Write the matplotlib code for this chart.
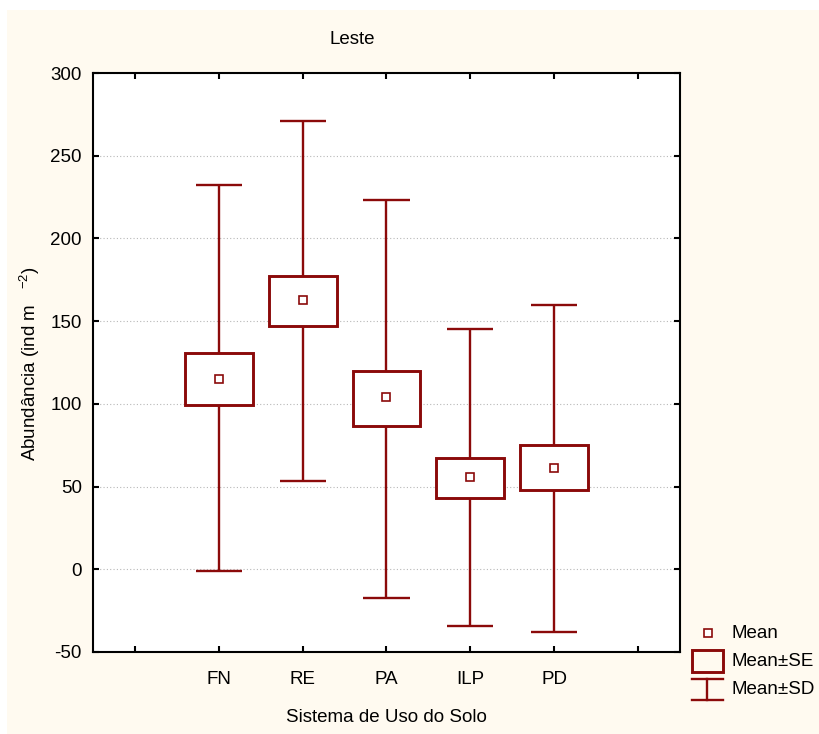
import matplotlib
matplotlib.use("Agg")
import matplotlib.pyplot as plt
from matplotlib.patches import Rectangle
from matplotlib.lines import Line2D
from matplotlib import font_manager

categories = ["FN", "RE", "PA", "ILP", "PD"]
means = [115, 163, 104, 55.6, 61.4]
se_hi = [131, 177, 119.6, 67.2, 74.9]
se_lo = [99.5, 147.3, 86.4, 43.1, 47.7]
sd_hi = [232, 271, 223, 145, 160]
sd_lo = [-1.2, 53.5, -17.5, -34.2, -37.9]
yticks = [-50, 0, 50, 100, 150, 200, 250, 300]

names = {f.name for f in font_manager.fontManager.ttflist}
fam = "Liberation Sans Narrow" if "Liberation Sans Narrow" in names else "Liberation Sans"
plt.rcParams["font.family"] = [fam, "DejaVu Sans"]
plt.rcParams["font.size"] = 13
plt.rcParams["axes.unicode_minus"] = False
plt.rcParams["mathtext.fontset"] = "custom"
plt.rcParams["mathtext.rm"] = fam
plt.rcParams["mathtext.it"] = fam

red = "#8b0a0a"
cream = "#fffaf0"
W, H = 820, 734
fig = plt.figure(figsize=(W / 100, H / 100), dpi=100, facecolor="white")
fig.patches.append(Rectangle((7 / W, 0), 1 - 7 / W, 1 - 10 / H, transform=fig.transFigure,
                             facecolor=cream, edgecolor="none", zorder=-10))

ax = fig.add_axes([93 / W, 1 - 652 / H, (680 - 93) / W, (652 - 73) / H])
ax.set_facecolor("white")
ax.set_xlim(-0.5, 6.5)
ax.set_ylim(-50, 300)
ax.set_yticks(yticks)
ax.set_xticks(range(0, 7))
ax.set_xticklabels([""] + categories + [""])
ax.tick_params(direction="in", top=True, right=True, length=4, width=1.5, labelsize=13.5, pad=8)
ax.tick_params(axis="x", pad=14)
for s in ax.spines.values():
    s.set_linewidth(1.5)
    s.set_color("black")
ax.yaxis.grid(True, linestyle=(0, (1, 2)), color="#b8b8b8", linewidth=0.8)
ax.set_axisbelow(True)

bw = 0.81
cw = 0.55
lw = 1.7
blw = 2.1
for i, c in enumerate(categories):
    x = i + 1
    ax.plot([x, x], [sd_lo[i], se_lo[i]], color=red, lw=lw, solid_capstyle="butt")
    ax.plot([x, x], [se_hi[i], sd_hi[i]], color=red, lw=lw, solid_capstyle="butt")
    ax.plot([x - cw / 2, x + cw / 2], [sd_hi[i]] * 2, color=red, lw=lw, solid_capstyle="butt")
    ax.plot([x - cw / 2, x + cw / 2], [sd_lo[i]] * 2, color=red, lw=lw, solid_capstyle="butt")
    ax.add_patch(Rectangle((x - bw / 2, se_lo[i]), bw, se_hi[i] - se_lo[i],
                           facecolor="white", edgecolor=red, lw=blw, zorder=3))
    ax.plot([x], [means[i]], marker="s", ms=6, mfc="white", mec=red, mew=1.2, zorder=4)

fs = 13.5
fig.text(352 / W, 1 - 40 / H, "Leste", ha="center", va="center", fontsize=fs)
fig.text(386 / W, 1 - 717 / H, "Sistema de Uso do Solo", ha="center", va="center", fontsize=fs)
fig.text(30 / W, 1 - 364 / H, "Abundância (ind m   $^{-2}$)", ha="center", va="center",
         rotation=90, fontsize=fs)

# legend (manual, outside axes)
fig.lines.append(Line2D([708 / W], [1 - 633 / H], transform=fig.transFigure, marker="s", ms=6,
                        mfc="white", mec=red, mew=1.2, lw=0))
fig.patches.append(Rectangle((692 / W, 1 - 672 / H), 31 / W, 22 / H, transform=fig.transFigure,
                             facecolor="none", edgecolor=red, lw=blw))
fig.lines.append(Line2D([707.5 / W] * 2, [1 - 679 / H, 1 - 700 / H], transform=fig.transFigure,
                        color=red, lw=lw))
fig.lines.append(Line2D([692 / W, 723 / W], [1 - 679 / H] * 2, transform=fig.transFigure,
                        color=red, lw=lw))
fig.lines.append(Line2D([692 / W, 723 / W], [1 - 700 / H] * 2, transform=fig.transFigure,
                        color=red, lw=lw))
fig.text(732 / W, 1 - 633 / H, "Mean", va="center", fontsize=fs)
fig.text(732 / W, 1 - 661 / H, "Mean±SE", va="center", fontsize=fs)
fig.text(732 / W, 1 - 689 / H, "Mean±SD", va="center", fontsize=fs)

fig.savefig("out.png", dpi=100, facecolor="white")
